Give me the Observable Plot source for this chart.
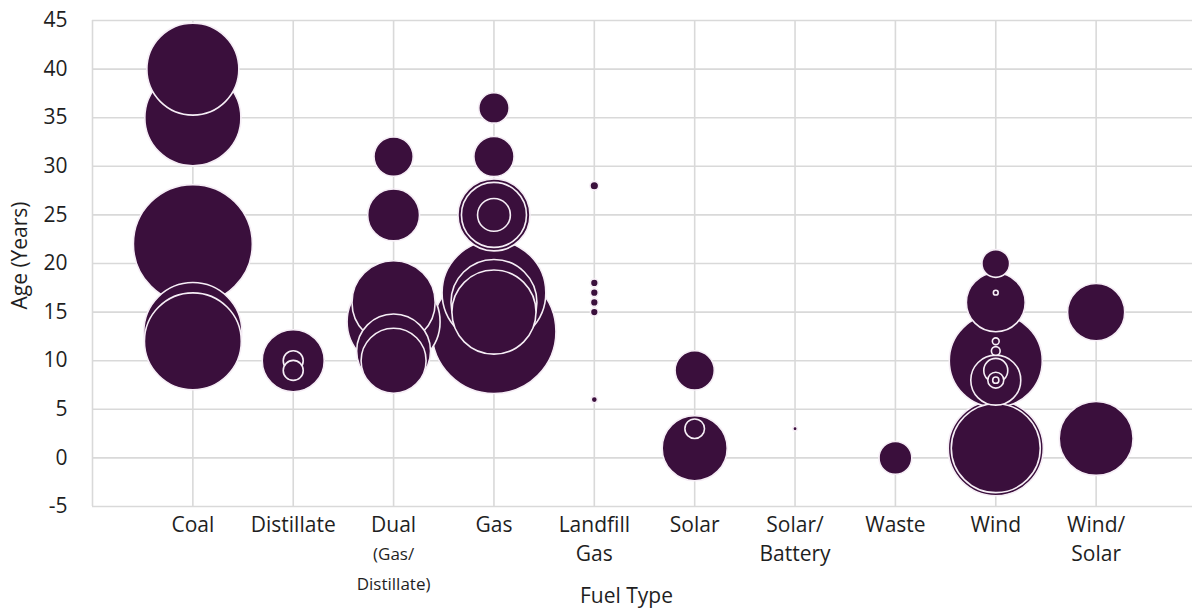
<!DOCTYPE html>
<html>
<head>
<meta charset="utf-8">
<script src="https://cdn.jsdelivr.net/npm/d3@7"></script>
<script src="https://cdn.jsdelivr.net/npm/@observablehq/plot@0.6"></script>
<style>
  html, body { margin: 0; padding: 0; background: #fff; }
</style>
</head>
<body>
<div id="chart"></div>
<script>
// Categories (fuel types) and their tick-label lines
const fuelTypes = ["Coal", "Distillate", "Dual (Gas/Distillate)", "Gas", "Landfill Gas", "Solar", "Solar/Battery", "Waste", "Wind", "Wind/Solar"];
const tickLine1 = ["Coal", "Distillate", "Dual", "Gas", "Landfill", "Solar", "Solar/", "Waste", "Wind", "Wind/"];
const tickLine2 = ["", "", "(Gas/", "", "Gas", "", "Battery", "", "", "Solar"];
const tickLine3 = ["", "", "Distillate)", "", "", "", "", "", "", ""];
const yTicks = [-5, 0, 5, 10, 15, 20, 25, 30, 35, 40, 45];

// One entry per plant: fuel type, age (years), capacity (bubble size, estimated)
const plantFuel = [
  "Coal", "Coal", "Coal", "Coal", "Coal",
  "Distillate", "Distillate", "Distillate",
  "Dual (Gas/Distillate)", "Dual (Gas/Distillate)", "Dual (Gas/Distillate)", "Dual (Gas/Distillate)", "Dual (Gas/Distillate)", "Dual (Gas/Distillate)",
  "Gas", "Gas", "Gas", "Gas", "Gas", "Gas", "Gas", "Gas", "Gas",
  "Landfill Gas", "Landfill Gas", "Landfill Gas", "Landfill Gas", "Landfill Gas", "Landfill Gas",
  "Solar", "Solar", "Solar",
  "Solar/Battery",
  "Waste",
  "Wind", "Wind", "Wind", "Wind", "Wind", "Wind", "Wind", "Wind", "Wind", "Wind", "Wind", "Wind",
  "Wind/Solar", "Wind/Solar"
];
const plantAge = [
  40, 35, 22, 13, 12,
  10, 10, 9,
  31, 25, 16, 14, 11, 10,
  36, 31, 25, 25, 25, 17, 16, 15, 13,
  28, 18, 17, 16, 15, 6,
  9, 3, 1,
  3,
  0,
  20, 17, 16, 12, 11, 10, 9, 8, 8, 8, 1, 1,
  15, 2
];
const plantCapacity = [
  1100, 1200, 1840, 1250, 1220,
  500, 52, 52,
  200, 350, 900, 1125, 710, 550,
  120, 210, 675, 550, 140, 1400, 960, 920, 2000,
  10, 8, 8, 8, 8, 5,
  200, 50, 550,
  2.5,
  140,
  100, 3, 450, 6, 10, 1125, 75, 325, 33, 5, 1175, 1030,
  425, 710
];

const plants = plantFuel.map((f, i) => ({fuel: f, age: plantAge[i], capacity: plantCapacity[i]}));
const idx = fuelTypes.map((_, i) => i);
const gridIdx = [0, ...idx.map(i => i + 1)];

const gridColor = "#d9d9d9";
const textColor = "#1f1f1f";
const bubbleFill = "#3a0f3c";

const chart = Plot.plot({
  width: 1192,
  height: 608,
  marginLeft: 92,
  marginRight: 0,
  marginTop: 20,
  marginBottom: 102,
  x: {domain: [0, 11], range: [92, 1196], axis: null},
  y: {domain: [-5, 45], axis: null},
  r: {type: "sqrt", domain: [0, 2000], range: [0, 62]},
  style: {fontFamily: "'Open Sans', 'Noto Sans', sans-serif", background: "white", color: textColor},
  marks: [
    Plot.ruleY(yTicks, {y: d => d, stroke: gridColor, strokeWidth: 1.6}),
    Plot.ruleX(gridIdx, {x: d => d, stroke: gridColor, strokeWidth: 1.6}),
    Plot.dot(plants, {
      x: d => fuelTypes.indexOf(d.fuel) + 1,
      y: "age",
      r: "capacity",
      fill: bubbleFill,
      fillOpacity: 1,
      stroke: "#f6eef6",
      strokeWidth: 1.6
    }),
    // y tick labels
    Plot.text(yTicks, {y: d => d, text: d => String(d), frameAnchor: "left", textAnchor: "end", dx: -25, fontSize: 21, fill: textColor}),
    // x tick labels, row 1
    Plot.text(idx, {x: i => i + 1, text: i => tickLine1[i], frameAnchor: "bottom", dy: 25, fontSize: 21, fill: textColor}),
    // row 2
    Plot.text(idx, {filter: i => tickLine2[i] && i !== 2, x: i => i + 1, text: i => tickLine2[i], frameAnchor: "bottom", dy: 54, fontSize: 21, fill: textColor}),
    Plot.text(idx, {filter: i => i === 2, x: i => i + 1, text: i => tickLine2[i], frameAnchor: "bottom", dy: 53, fontSize: 17, fill: textColor}),
    // row 3
    Plot.text(idx, {filter: i => tickLine3[i], x: i => i + 1, text: i => tickLine3[i], frameAnchor: "bottom", dy: 83, fontSize: 17, fill: textColor}),
    // axis titles
    Plot.text(["Fuel Type"], {text: d => d, frameAnchor: "bottom", dx: -16, dy: 96, fontSize: 21, fill: textColor}),
    Plot.text(["Age (Years)"], {text: d => d, frameAnchor: "left", textAnchor: "middle", rotate: -90, dx: -72, dy: -8, fontSize: 21, fill: textColor})
  ]
});

document.getElementById("chart").appendChild(chart);
</script>
</body>
</html>
